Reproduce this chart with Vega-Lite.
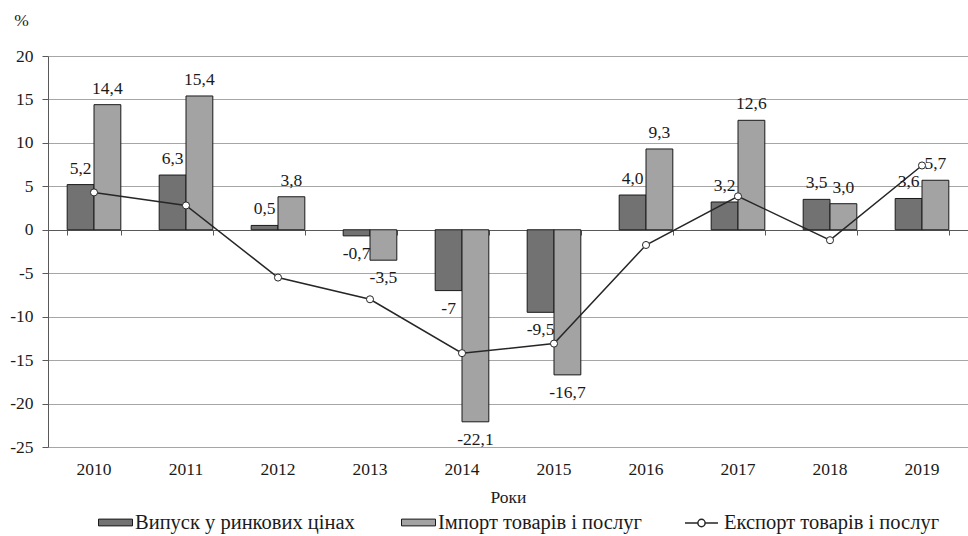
{
  "$schema": "https://vega.github.io/schema/vega-lite/v6.json",
  "width": 920,
  "height": 391,
  "autosize": {"type": "none"},
  "padding": {"left": 48, "top": 56, "right": 0, "bottom": 89},
  "background": "white",
  "config": {
    "font": "Liberation Serif, 'Times New Roman', serif",
    "view": {"stroke": null},
    "axis": {"labelFont": "Liberation Serif, 'Times New Roman', serif", "titleFont": "Liberation Serif, 'Times New Roman', serif", "labelColor": "#1a1a1a", "titleColor": "#1a1a1a", "labelFontSize": 17.5, "titleFontSize": 17.5, "titleFontWeight": "normal"},
    "legend": {"labelFont": "Liberation Serif, 'Times New Roman', serif", "labelFontSize": 20.5, "labelColor": "#1a1a1a", "padding": 0}
  },
  "datasets": {
    "bars": [
      {"year": "2010", "s": "Випуск у ринкових цінах", "v": 5.2, "lbl": "5,2"},
      {"year": "2010", "s": "Імпорт товарів і послуг", "v": 14.4, "lbl": "14,4"},
      {"year": "2011", "s": "Випуск у ринкових цінах", "v": 6.3, "lbl": "6,3"},
      {"year": "2011", "s": "Імпорт товарів і послуг", "v": 15.4, "lbl": "15,4"},
      {"year": "2012", "s": "Випуск у ринкових цінах", "v": 0.5, "lbl": "0,5"},
      {"year": "2012", "s": "Імпорт товарів і послуг", "v": 3.8, "lbl": "3,8"},
      {"year": "2013", "s": "Випуск у ринкових цінах", "v": -0.7, "lbl": "-0,7"},
      {"year": "2013", "s": "Імпорт товарів і послуг", "v": -3.5, "lbl": "-3,5"},
      {"year": "2014", "s": "Випуск у ринкових цінах", "v": -7.0, "lbl": "-7"},
      {"year": "2014", "s": "Імпорт товарів і послуг", "v": -22.1, "lbl": "-22,1"},
      {"year": "2015", "s": "Випуск у ринкових цінах", "v": -9.5, "lbl": "-9,5"},
      {"year": "2015", "s": "Імпорт товарів і послуг", "v": -16.7, "lbl": "-16,7"},
      {"year": "2016", "s": "Випуск у ринкових цінах", "v": 4.0, "lbl": "4,0"},
      {"year": "2016", "s": "Імпорт товарів і послуг", "v": 9.3, "lbl": "9,3"},
      {"year": "2017", "s": "Випуск у ринкових цінах", "v": 3.2, "lbl": "3,2"},
      {"year": "2017", "s": "Імпорт товарів і послуг", "v": 12.6, "lbl": "12,6"},
      {"year": "2018", "s": "Випуск у ринкових цінах", "v": 3.5, "lbl": "3,5"},
      {"year": "2018", "s": "Імпорт товарів і послуг", "v": 3.0, "lbl": "3,0"},
      {"year": "2019", "s": "Випуск у ринкових цінах", "v": 3.6, "lbl": "3,6"},
      {"year": "2019", "s": "Імпорт товарів і послуг", "v": 5.7, "lbl": "5,7"}
    ],
    "exp": [
      {"year": "2010", "v": 4.3},
      {"year": "2011", "v": 2.8},
      {"year": "2012", "v": -5.5},
      {"year": "2013", "v": -8.0},
      {"year": "2014", "v": -14.2},
      {"year": "2015", "v": -13.1},
      {"year": "2016", "v": -1.75},
      {"year": "2017", "v": 3.85},
      {"year": "2018", "v": -1.2},
      {"year": "2019", "v": 7.4}
    ]
  },
  "layer": [
    {
      "data": {"name": "bars"},
      "mark": {"type": "bar", "stroke": "#1a1a1a", "strokeWidth": 1},
      "encoding": {
        "x": {
          "field": "year", "type": "ordinal",
          "scale": {"paddingInner": 0.417, "paddingOuter": 0.2085},
          "axis": {"orient": "bottom", "offset": -217, "labels": false, "title": null, "domain": true, "domainColor": "#595959", "ticks": true, "tickColor": "#595959", "tickSize": 5, "tickBand": "extent", "grid": false}
        },
        "xOffset": {"field": "s", "type": "nominal", "scale": {"domain": ["Випуск у ринкових цінах", "Імпорт товарів і послуг"]}},
        "y": {
          "field": "v", "type": "quantitative", "title": "%",
          "scale": {"domain": [-25, 20], "nice": false},
          "axis": {"values": [-25, -20, -15, -10, -5, 0, 5, 10, 15, 20], "labelExpr": "'' + datum.value", "grid": true, "gridColor": "#a6a6a6", "domainColor": "#595959", "tickColor": "#595959", "tickSize": 6, "labelPadding": 9, "titleAngle": 0, "titleX": -27, "titleY": -36, "titleAlign": "center", "titleBaseline": "middle"}
        },
        "fill": {
          "field": "s", "type": "nominal",
          "scale": {"domain": ["Випуск у ринкових цінах", "Імпорт товарів і послуг"], "range": ["#727272", "#a3a3a3"]},
          "legend": {"orient": "none", "legendX": 50, "legendY": 449, "direction": "horizontal", "title": null, "symbolType": "M-1,-0.2H1V0.2H-1Z", "symbolSize": 1156, "symbolStrokeColor": "#1a1a1a", "symbolStrokeWidth": 1, "columnPadding": 44, "labelOffset": 2, "labelLimit": 400}
        }
      }
    },
    {
      "data": {"name": "exp"},
      "mark": {"type": "line", "strokeWidth": 1.5},
      "encoding": {
        "x": {"field": "year", "type": "ordinal", "axis": {"orient": "bottom", "domain": false, "ticks": false, "grid": false, "labelPadding": 13, "labelAngle": 0, "title": "Роки", "titlePadding": 11}},
        "y": {"field": "v", "type": "quantitative", "title": "%"},
        "stroke": {
          "datum": "Експорт товарів і послуг", "type": "nominal",
          "scale": {"range": ["#262626"]},
          "legend": {"orient": "none", "legendX": 636, "legendY": 449.5, "title": null, "symbolType": "M-1,0H-0.22M0.22,0H1M-0.22,0A0.22,0.22 0 1,1 0.22,0A0.22,0.22 0 1,1 -0.22,0Z", "symbolSize": 1089, "symbolStrokeWidth": 1.5, "symbolFillColor": "white", "labelOffset": 5, "labelLimit": 400}
        }
      }
    },
    {
      "data": {"name": "exp"},
      "mark": {"type": "point", "filled": true, "fill": "white", "stroke": "#262626", "strokeWidth": 1, "size": 50, "opacity": 1},
      "encoding": {
        "x": {"field": "year", "type": "ordinal", "axis": null},
        "y": {"field": "v", "type": "quantitative", "title": "%"}
      }
    },
    {
      "data": {"name": "bars"},
      "transform": [{"filter": "datum.v >= 0"}],
      "mark": {"type": "text", "baseline": "bottom", "dy": -7, "fontSize": 17.5, "color": "#1a1a1a"},
      "encoding": {
        "x": {"field": "year", "type": "ordinal", "axis": null},
        "xOffset": {"field": "s", "type": "nominal", "scale": {"domain": ["Випуск у ринкових цінах", "Імпорт товарів і послуг"]}},
        "y": {"field": "v", "type": "quantitative", "title": "%"},
        "text": {"field": "lbl"}
      }
    },
    {
      "data": {"name": "bars"},
      "transform": [{"filter": "datum.v < 0"}],
      "mark": {"type": "text", "baseline": "top", "dy": 9, "fontSize": 17.5, "color": "#1a1a1a"},
      "encoding": {
        "x": {"field": "year", "type": "ordinal", "axis": null},
        "xOffset": {"field": "s", "type": "nominal", "scale": {"domain": ["Випуск у ринкових цінах", "Імпорт товарів і послуг"]}},
        "y": {"field": "v", "type": "quantitative", "title": "%"},
        "text": {"field": "lbl"}
      }
    }
  ],
  "resolve": {"axis": {"x": "independent"}}
}
